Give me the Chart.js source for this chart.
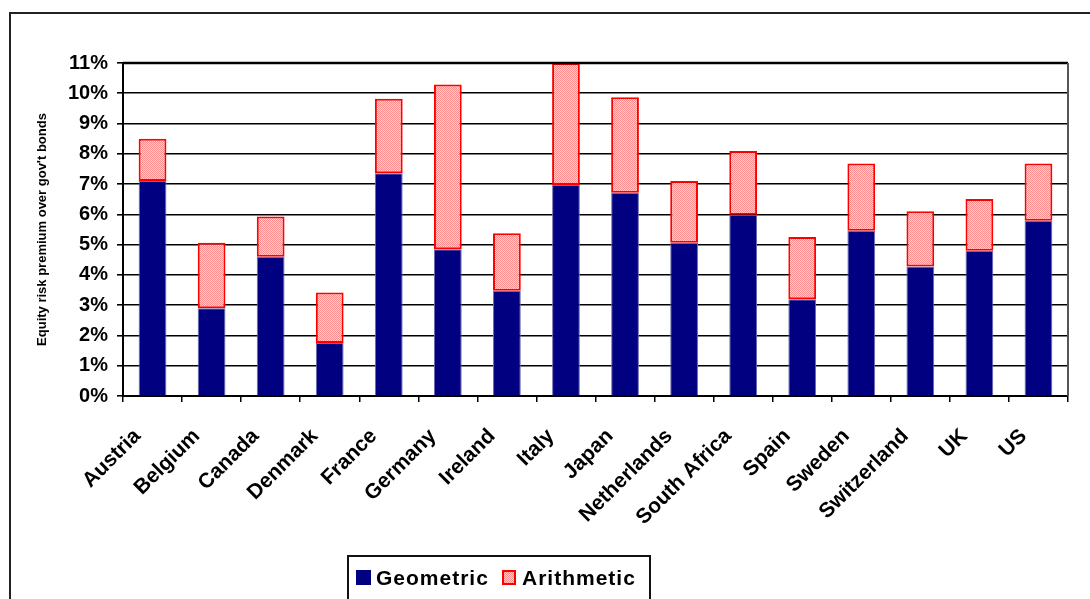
<!DOCTYPE html>
<html>
<head>
<meta charset="utf-8">
<title>Equity risk premium over government bonds</title>
<script src="https://cdn.jsdelivr.net/npm/chart.js@4.4.1/dist/chart.umd.min.js"></script>
<style>
  html, body { margin: 0; padding: 0; background: #ffffff; }
  #wrap { width: 1090px; height: 599px; }
</style>
</head>
<body>
<div id="wrap"><canvas id="chart" width="1090" height="599"></canvas></div>
<script>
// Equity risk premium over government bonds, per country (percent)
const countries = ['Austria', 'Belgium', 'Canada', 'Denmark', 'France', 'Germany', 'Ireland', 'Italy',
  'Japan', 'Netherlands', 'South Africa', 'Spain', 'Sweden', 'Switzerland', 'UK', 'US'];
const geometric = [7.1, 2.9, 4.6, 1.75, 7.36, 4.85, 3.48, 6.97, 6.71, 5.06, 5.99, 3.2, 5.46, 4.28, 4.8, 5.79];
const arithmetic = [8.5, 5.06, 5.93, 3.42, 9.82, 10.29, 5.38, 11.0, 9.87, 7.1, 8.09, 5.25, 7.68, 6.1, 6.51, 7.68];
const yTicks = [0, 1, 2, 3, 4, 5, 6, 7, 8, 9, 10, 11];
const seriesNames = ['Geometric', 'Arithmetic'];
const yTitle = "Equity risk premium over gov't bonds";

const FONT = "'Liberation Sans', Arial, sans-serif";
const NAVY = '#000080';
const RED = '#ff0000';

const canvas = document.getElementById('chart');
const ctx = canvas.getContext('2d');

// Pink stipple fill used for the arithmetic bars
function stipple() {
  const c = document.createElement('canvas');
  c.width = 2; c.height = 2;
  const g = c.getContext('2d');
  g.fillStyle = '#ffd2d2';
  g.fillRect(0, 0, 2, 2);
  g.fillStyle = '#ff8c8c';
  g.fillRect(0, 0, 1, 1);
  g.fillRect(1, 1, 1, 1);
  return ctx.createPattern(c, 'repeat');
}
const pinkFill = stipple();

// White page, outer frame, plot edges and the boxed legend
const frame = {
  id: 'frame',
  beforeDraw(chart) {
    const c = chart.ctx;
    c.save();
    c.fillStyle = '#ffffff';
    c.fillRect(0, 0, chart.width, chart.height);
    c.strokeStyle = '#222222';
    c.lineWidth = 2;
    c.beginPath();
    c.moveTo(10, chart.height + 5);
    c.lineTo(10, 13);
    c.lineTo(chart.width + 5, 13);
    c.stroke();
    c.restore();
  },
  afterDraw(chart) {
    const c = chart.ctx;
    const a = chart.chartArea;
    c.save();
    c.strokeStyle = '#000000';
    c.lineWidth = 2.5;
    c.beginPath();
    c.moveTo(a.left, a.top);
    c.lineTo(a.right, a.top);
    c.stroke();
    c.strokeStyle = '#555555';
    c.lineWidth = 2;
    c.beginPath();
    c.moveTo(a.right, a.top);
    c.lineTo(a.right, a.bottom);
    c.stroke();

    const bx = 348, by = 556, bw = 302;
    c.strokeStyle = '#111111';
    c.lineWidth = 2;
    c.beginPath();
    c.moveTo(bx, chart.height + 5);
    c.lineTo(bx, by);
    c.lineTo(bx + bw, by);
    c.lineTo(bx + bw, chart.height + 5);
    c.stroke();

    c.font = 'bold 21px ' + FONT;
    if ('letterSpacing' in c) c.letterSpacing = '1px';
    c.textBaseline = 'alphabetic';
    c.textAlign = 'left';

    c.fillStyle = NAVY;
    c.fillRect(356, 570, 15, 15);
    c.fillStyle = '#000000';
    c.fillText(seriesNames[0], 376, 585);

    c.fillStyle = pinkFill;
    c.fillRect(502, 570, 14, 15);
    c.strokeStyle = RED;
    c.lineWidth = 2;
    c.strokeRect(503, 571, 12, 13);
    c.fillStyle = '#000000';
    c.fillText(seriesNames[1], 522, 585);
    c.restore();
  }
};

new Chart(canvas, {
  type: 'bar',
  data: {
    labels: countries,
    datasets: [
      {
        label: seriesNames[0],
        data: geometric,
        backgroundColor: NAVY,
        borderColor: '#6a6ab0',
        borderWidth: 1,
        borderSkipped: 'bottom',
        grouped: false,
        order: 1,
        barPercentage: 0.47,
        categoryPercentage: 1
      },
      {
        label: seriesNames[1],
        data: countries.map((_, i) => [geometric[i], arithmetic[i]]),
        backgroundColor: pinkFill,
        borderColor: RED,
        borderWidth: 2,
        borderSkipped: false,
        grouped: false,
        order: 0,
        barPercentage: 0.47,
        categoryPercentage: 1
      }
    ]
  },
  options: {
    responsive: false,
    animation: false,
    layout: { padding: { left: 12, top: 63, right: 22, bottom: 0 } },
    plugins: {
      legend: { display: false },
      tooltip: { enabled: false },
      title: { display: false }
    },
    scales: {
      x: {
        offset: true,
        afterFit(scale) { scale.height = 203; },
        grid: {
          offset: true,
          drawOnChartArea: false,
          drawTicks: true,
          tickLength: 6,
          color: '#000000',
          lineWidth: 1.5
        },
        border: { display: true, color: '#000000', width: 2 },
        ticks: {
          autoSkip: false,
          maxRotation: 45,
          minRotation: 45,
          padding: 22,
          labelOffset: -15,
          color: '#000000',
          font: { family: FONT, weight: 'bold', size: 21 }
        }
      },
      y: {
        min: 0,
        max: 11,
        afterFit(scale) { scale.width = 111; },
        afterBuildTicks(scale) { scale.ticks = yTicks.map(v => ({ value: v })); },
        grid: {
          color: '#000000',
          lineWidth: 1.6,
          tickLength: 6,
          drawTicks: true
        },
        border: { display: true, color: '#000000', width: 2 },
        ticks: {
          padding: 9,
          color: '#000000',
          font: { family: FONT, weight: 'bold', size: 20 },
          callback: v => v + '%'
        },
        title: {
          display: true,
          text: yTitle,
          color: '#000000',
          padding: { top: 23, bottom: 0 },
          font: { family: FONT, weight: 'bold', size: 13 }
        }
      }
    }
  },
  plugins: [frame]
});
</script>
</body>
</html>
